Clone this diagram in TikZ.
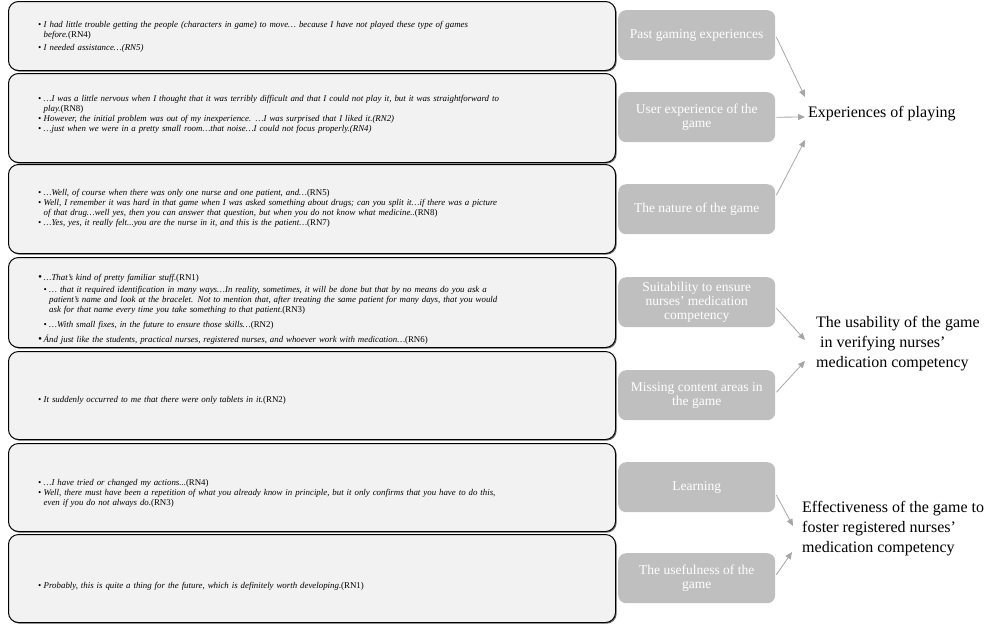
\documentclass[tikz,border=0pt]{standalone}
\usepackage{fontspec}
\setmainfont{Liberation Serif}
\usetikzlibrary{arrows.meta,shadows}
\definecolor{qfill}{HTML}{F2F2F2}
\definecolor{gfill}{HTML}{BFBFBF}
\definecolor{agray}{HTML}{A6A6A6}
\newcommand{\bul}{\makebox[5.5pt][l]{\textbullet}}
\newcommand{\bigbul}{\makebox[5.5pt][l]{\fontsize{11}{10}\selectfont\textbullet}}
\newcommand{\hng}{\hspace*{5.5pt}}
\newcommand{\rn}[1]{\textup{#1}}
\begin{document}
\begin{tikzpicture}[x=1pt,y=-1pt,
 qbox/.style={draw=black, line width=1pt, fill=qfill, rounded corners=10pt, anchor=north west, inner sep=0pt, minimum width=607pt, drop shadow={shadow xshift=1.2pt, shadow yshift=-1.2pt, fill=black!55, opacity=1}},
 qtext/.style={anchor=base west, inner sep=0pt, text width=590pt, align=left, font=\fontsize{8.85}{10}\selectfont\itshape},
 gbox/.style={fill=gfill, rounded corners=8pt, anchor=north west, inner sep=0pt, minimum width=157pt, minimum height=50pt, text=white, align=center, font=\fontsize{13.5}{14}\selectfont},
 theme/.style={anchor=west, inner sep=0pt, align=left, font=\fontsize{16}{20}\selectfont},
 arr/.style={draw=agray, line width=0.8pt, -{Triangle[length=7pt,width=6pt]}}
]
\useasboundingbox (0,0) rectangle (1000,630);

% quote boxes
\node[qbox, minimum height=69pt] (q1) at (8,1) {};
\node[qbox, minimum height=89pt] (q2) at (8,73) {};
\node[qbox, minimum height=89pt] (q3) at (8,164) {};
\node[qbox, minimum height=90pt] (q4) at (8,257) {};
\node[qbox, minimum height=88pt] (q5) at (8,351) {};
\node[qbox, minimum height=88pt] (q6) at (8,443) {};
\node[qbox, minimum height=88pt] (q7) at (8,534) {};

\node[qtext] (x1) at (38,27) {\bul I had little trouble getting the people (characters in game) to move… because I have not played these type of games\\
\hng before.\rn{(RN4)}\\[3pt]
\bul I needed assistance…(RN5)};

\node[qtext] (x2) at (38,101) {\bul …I was a little nervous when I thought that it was terribly difficult and that I could not play it, but it was straightforward to\\
\hng play.\rn{(RN8)}\\
\bul However, the initial problem was out of my inexperience. …I was surprised that I liked it.(RN2)\\
\bul …just when we were in a pretty small room…that noise…I could not focus properly.(RN4)};

\node[qtext] (x3) at (38,195) {\bul …Well, of course when there was only one nurse and one patient, and…\rn{(RN5)}\\
\bul Well, I remember it was hard in that game when I was asked something about drugs; can you split it…if there was a picture\\
\hng of that drug…well yes, then you can answer that question, but when you do not know what medicine..\rn{(RN8)}\\
\bul …Yes, yes, it really felt...you are the nurse in it, and this is the patient…\rn{(RN7)}};

\node[qtext] (x4) at (38,280) {\bigbul …That’s kind of pretty familiar stuff.\rn{(RN1)}\\[2pt]
\hng\bul … that it required identification in many ways…In reality, sometimes, it will be done but that by no means do you ask a\\
\hng\hng patient’s name and look at the bracelet. Not to mention that, after treating the same patient for many days, that you would\\
\hng\hng ask for that name every time you take something to that patient.\rn{(RN3)}\\[5pt]
\hng\bul …With small fixes, in the future to ensure those skills…\rn{(RN2)}\\[5pt]
\bigbul Ánd just like the students, practical nurses, registered nurses, and whoever work with medication…\rn{(RN6)}};

\node[qtext] (x5) at (38,402) {\bul It suddenly occurred to me that there were only tablets in it.\rn{(RN2)}};

\node[qtext] (x6) at (38,485) {\bul …I have tried or changed my actions...\rn{(RN4)}\\
\bul Well, there must have been a repetition of what you already know in principle, but it only confirms that you have to do this,\\
\hng even if you do not always do.\rn{(RN3)}};

\node[qtext] (x7) at (38,588) {\bul Probably, this is quite a thing for the future, which is definitely worth developing.\rn{(RN1)}};

% grey category boxes
\node[gbox] (g1) at (618,10) {Past gaming experiences};
\node[gbox] (g2) at (618,92) {User experience of the\\game};
\node[gbox] (g3) at (618,184) {The nature of the game};
\node[gbox] (g4) at (618,277) {Suitability to ensure\\nurses' medication\\competency};
\node[gbox] (g5) at (618,370) {Missing content areas in\\the game};
\node[gbox] (g6) at (618,462) {Learning};
\node[gbox] (g7) at (618,553) {The usefulness of the\\game};

% themes
\node[theme] (t1) at (808,114) {Experiences of playing};
\node[theme] (t2) at (816,344) {The usability of the game\\\hspace*{4pt}in verifying nurses’\\medication competency};
\node[theme] (t3) at (802,529) {Effectiveness of the game to\\foster registered nurses’\\medication competency};

% arrows
\draw[arr] ([xshift=1pt,yshift=-2pt]g1.east) -- ([xshift=-3pt,yshift=17pt]t1.west);
\draw[arr] ([xshift=1pt]g2.east) -- ([xshift=-3pt,yshift=-3pt]t1.west);
\draw[arr] ([xshift=1pt,yshift=14pt]g3.east) -- ([xshift=-3pt,yshift=-26pt]t1.west);
\draw[arr] ([xshift=1pt,yshift=-6pt]g4.east) -- ([xshift=-11pt,yshift=4pt]t2.west);
\draw[arr] ([xshift=1pt,yshift=3pt]g5.east) -- ([xshift=-11pt,yshift=-17pt]t2.west);
\draw[arr] ([xshift=1pt,yshift=-8pt]g6.east) -- ([xshift=-9pt,yshift=3pt]t3.west);
\draw[arr] ([xshift=1pt,yshift=3.5pt]g7.east) -- ([xshift=-10pt,yshift=-23pt]t3.west);
\end{tikzpicture}
\end{document}
